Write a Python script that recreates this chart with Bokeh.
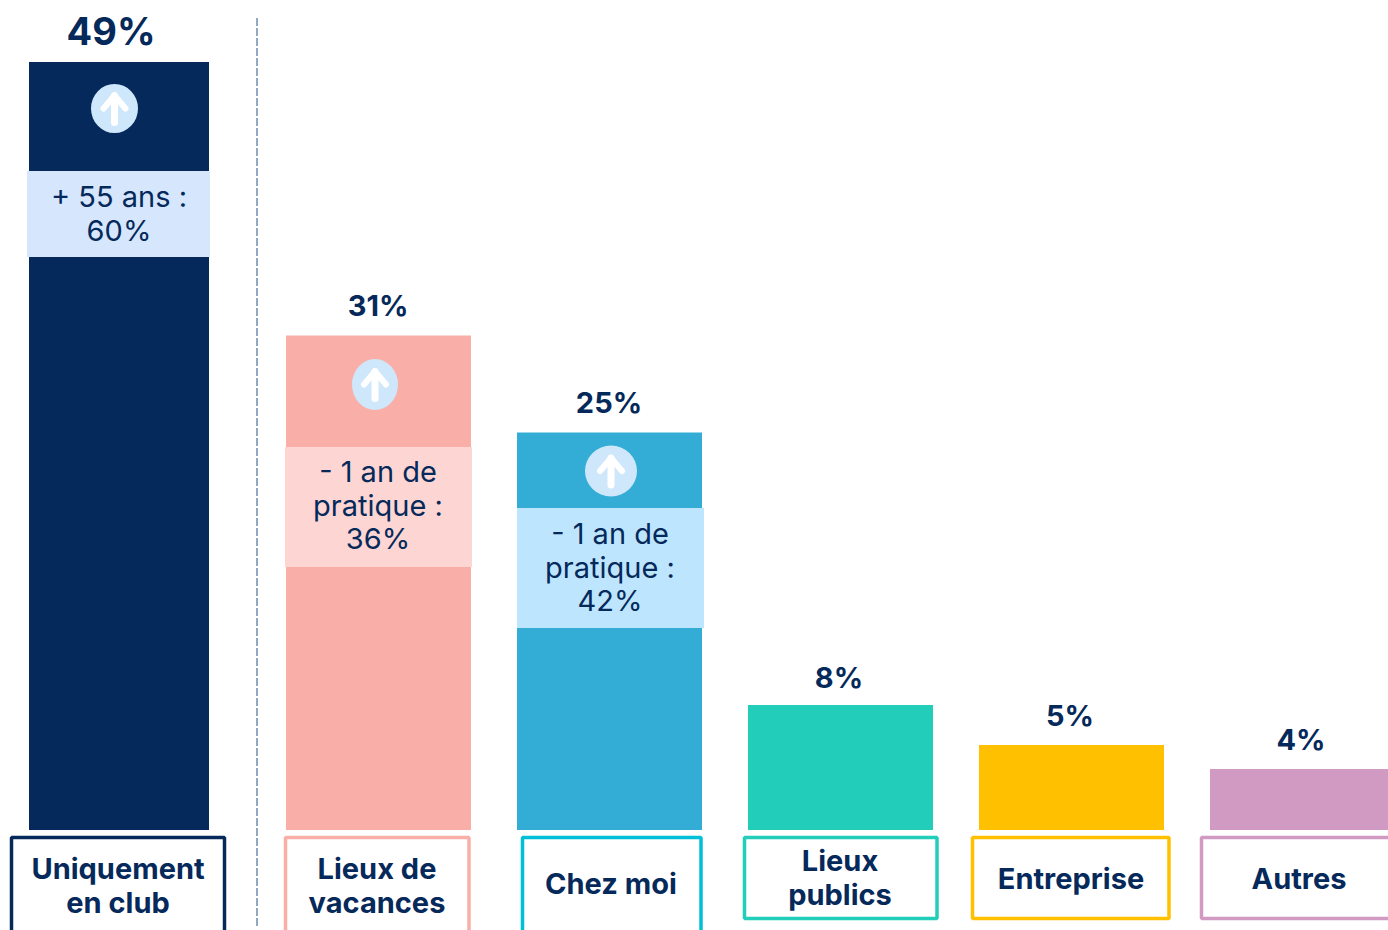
from bokeh.plotting import figure
from bokeh.embed import file_html
from bokeh.resources import INLINE
from bokeh.core.properties import value
from bokeh.models import Range1d

# ---- data ----
categories = ["Uniquement\nen club", "Lieux de\nvacances", "Chez moi", "Lieux\npublics", "Entreprise", "Autres"]
percent_labels = ["49%", "31%", "25%", "8%", "5%", "4%"]
bar_values = [48.3, 31.1, 25.0, 7.86, 5.35, 3.84]
bar_colors = ["#05295A", "#F9AFA8", "#33ADD6", "#22CDB9", "#FFC000", "#D19AC3"]
border_colors = ["#05295A", "#F9AFA8", "#00BFD8", "#22CDB9", "#FFC000", "#D19AC3"]
callouts = ["+ 55 ans :\n60%", "- 1 an de\npratique :\n36%", "- 1 an de\npratique :\n42%"]
callout_colors = ["#D5E6FD", "#FDD5D3", "#BEE5FE"]

# ---- layout (page pixels) ----
NAVY = "#05295A"
FONT = "Inter"
W, H = 1388, 930
BASE = 830.0
PX = 15.9
DROP = 0.38  # how far the text glyph falls below its requested baseline, per px of font size
bar_left = [29, 286, 517, 748, 979, 1210]
bar_right = [209, 471, 702, 933, 1164, 1395]
label_x = [111, 378, 609, 839, 1070, 1301]
label_gap = [17, 19, 19, 17, 18, 18]
label_size = [38, 29, 29, 29, 29, 29]
box_left = [11.5, 285.5, 522.5, 744.5, 972.5, 1201.5]
box_right = [224.5, 469, 701, 937, 1169, 1400]
box_bottom = [945, 945, 945, 918.5, 918.5, 918.5]
box_text_x = [118, 377, 611, 840, 1071, 1299]
box_text_y = [880, 880, 895, 872, 890, 890]
call_left = [27, 285, 517]
call_right = [210, 472, 704]
call_top = [171, 447, 508]
call_bottom = [257, 567, 628]
call_text_x = [119, 378, 610]
call_text_y = [208, 483, 545]
circle_x = [114.5, 375, 611]
circle_y = [108.5, 384.5, 471]
circle_w = [47, 46, 52]
circle_h = [49, 51, 51]


def yv(pix):
    """page pixel row -> value on the chart's scale"""
    return (BASE - pix) / PX


p = figure(width=W, height=H, output_backend="svg", toolbar_location=None,
           x_range=Range1d(0.5, W + 0.5), y_range=Range1d(yv(H + 0.5), yv(0.5)),
           min_border=0, outline_line_color=None, background_fill_color="white")
p.axis.visible = False
p.grid.visible = False

# bars
p.quad(left=bar_left, right=bar_right, bottom=[0] * 6, top=bar_values, fill_color=bar_colors, line_color=None)

# separator
p.line([257, 257], [yv(18), yv(928)], line_color="#6D8CB2", line_width=1.5, line_dash="8 2")

# callout bands
p.quad(left=call_left, right=call_right, top=[yv(t) for t in call_top], bottom=[yv(b) for b in call_bottom],
       fill_color=callout_colors, line_color=None)

# arrow badges
p.ellipse(x=circle_x, y=[yv(c) for c in circle_y], width=circle_w, height=circle_h,
          width_units="screen", height_units="screen", fill_color="#CFE7FB", line_color=None)
for cx, cy in zip(circle_x, circle_y):
    p.line([cx, cx], [yv(cy + 14), yv(cy - 13)], line_color="white", line_width=7, line_cap="round")
    p.line([cx - 11, cx, cx + 11], [yv(cy), yv(cy - 13), yv(cy)], line_color="white", line_width=6,
           line_cap="round", line_join="round")

# category boxes
p.quad(left=box_left, right=box_right, top=[yv(837.5)] * 6, bottom=[yv(b) for b in box_bottom],
       fill_color="white", line_color=border_colors, line_width=3.5)


def put(xs, ys, texts, size, style, pitch):
    for x, y, t in zip(xs, ys, texts):
        for i, line in enumerate(t.split("\n")):
            p.text([x], [yv(y + i * pitch - DROP * size)], text=[line], text_align="center",
                   text_baseline="alphabetic", text_font=value(FONT), text_font_size=f"{size}px",
                   text_font_style=style, text_color=NAVY)


# percentage labels
for i, lab in enumerate(percent_labels):
    tp = BASE - bar_values[i] * PX
    put([label_x[i]], [tp - label_gap[i]], [lab], label_size[i], "bold", 0)

put(call_text_x, call_text_y, callouts, 29, "normal", 33.5)
put(box_text_x, box_text_y, categories, 29, "bold", 34)

open("out.html", "w").write(file_html(p, INLINE))
